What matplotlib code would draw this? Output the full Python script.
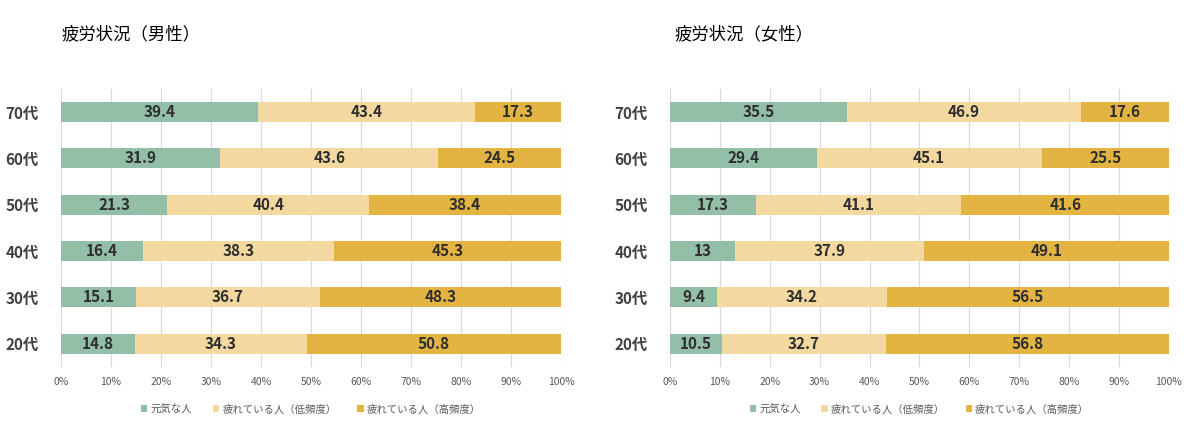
import matplotlib
matplotlib.use("Agg")
import matplotlib.pyplot as plt
import numpy as np

plt.rcParams['font.family'] = ['Noto Sans CJK JP', 'DejaVu Sans']

ages = ['20代', '30代', '40代', '50代', '60代', '70代']
series = ['元気な人', '疲れている人（低頻度）', '疲れている人（高頻度）']
colors = ['#93BEA8', '#F3D9A0', '#E4B443']

# male, rows in the order of ages
male_genki = [14.8, 15.1, 16.4, 21.3, 31.9, 39.4]
male_low = [34.3, 36.7, 38.3, 40.4, 43.6, 43.4]
male_high = [50.8, 48.3, 45.3, 38.4, 24.5, 17.3]

# female
female_genki = [10.5, 9.4, 13, 17.3, 29.4, 35.5]
female_low = [32.7, 34.2, 37.9, 41.1, 45.1, 46.9]
female_high = [56.8, 56.5, 49.1, 41.6, 25.5, 17.6]

fig = plt.figure(figsize=(12, 4.28), dpi=100)


def draw(ax, vals, title, tx):
    vals = np.array(vals, dtype=float)
    tot = vals.sum(axis=0)
    y = np.arange(len(ages))
    left = np.zeros(len(ages))
    handles = []
    for i, v in enumerate(vals):
        w = v / tot
        b = ax.barh(y, w, left=left, height=0.43, color=colors[i], zorder=3)
        handles.append(b)
        for yy, l, ww, lab in zip(y, left, w, v):
            txt = ('%g' % lab)
            ax.text(l + ww / 2, yy, txt, ha='center', va='center',
                    fontsize=11, fontweight='bold', color='#2E2E2E', zorder=4)
        left += w
    ax.set_xlim(0, 1)
    ax.set_ylim(-0.5, 5.5)
    ax.set_xticks(np.arange(0, 1.01, 0.1))
    ax.set_xticklabels(['%d%%' % p for p in range(0, 101, 10)],
                       fontsize=7.5, color='#595959')
    ax.set_yticks(y)
    ax.set_yticklabels(ages, fontsize=11, fontweight='bold', color='#404040')
    ax.tick_params(length=0, axis='both')
    ax.tick_params(axis='y', pad=16)
    ax.tick_params(axis='x', pad=7)
    ax.grid(axis='x', color='#D9D9D9', linewidth=0.8, zorder=0)
    for s in ax.spines.values():
        s.set_visible(False)
    fig.text(tx, 0.92, title, fontsize=12.5, color='black', va='center')
    leg = ax.legend(handles, series, loc='upper center', bbox_to_anchor=(0.5, -0.1),
                    ncol=3, frameon=False, fontsize=7.5, handlelength=0.6,
                    handleheight=0.6, handletextpad=0.3, columnspacing=2.0)
    for t in leg.get_texts():
        t.set_color('#595959')


ax1 = fig.add_axes([0.0508, 0.1425, 0.4167, 0.65])
draw(ax1, [male_genki, male_low, male_high], '疲労状況（男性）', 0.051)
ax2 = fig.add_axes([0.5583, 0.1425, 0.4158, 0.65])
draw(ax2, [female_genki, female_low, female_high], '疲労状況（女性）', 0.5625)

fig.savefig('out.png', dpi=100)
